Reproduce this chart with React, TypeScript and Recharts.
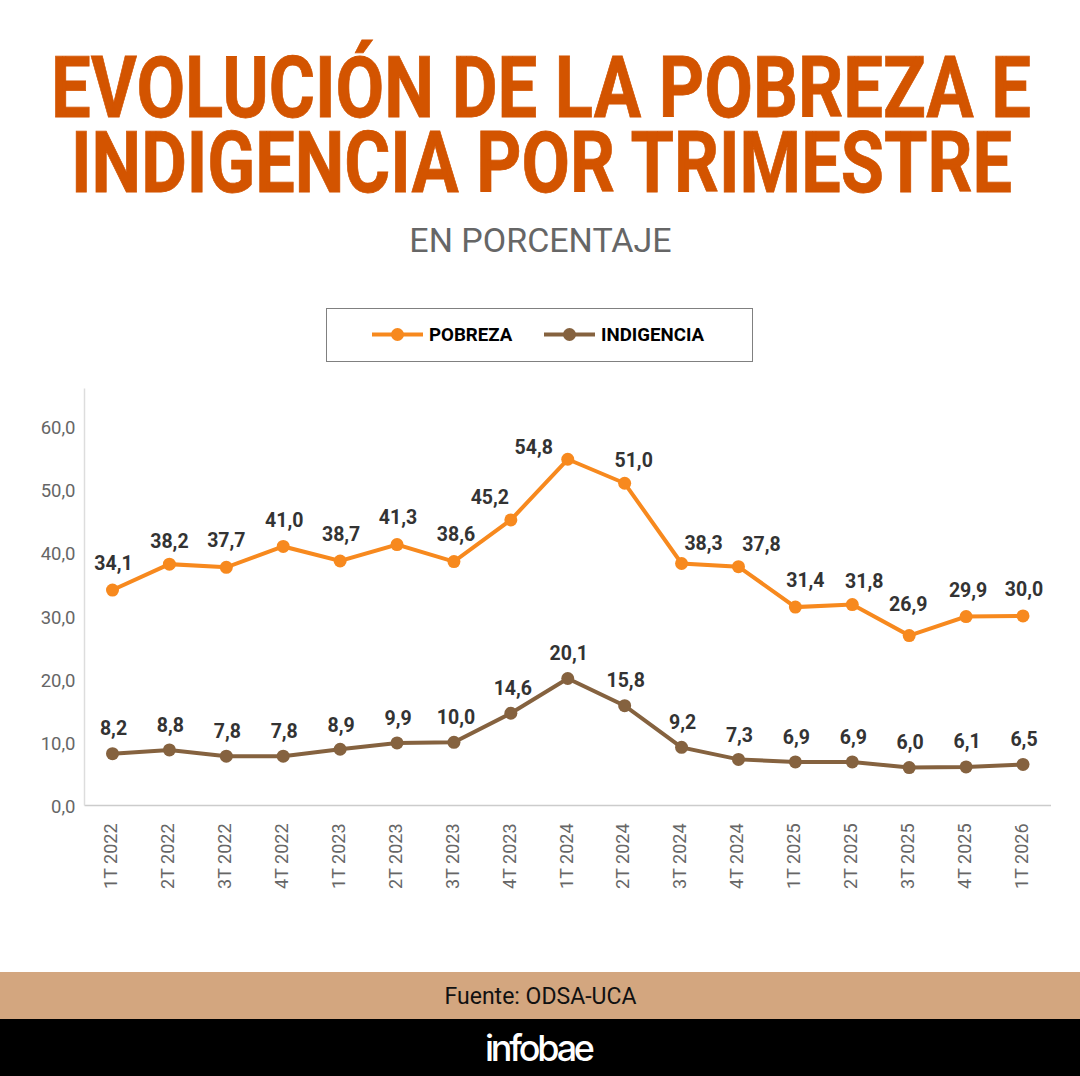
import React from "react";
import { LineChart, Line, XAxis, YAxis, LabelList } from "recharts";

const periods = [
  "1T 2022", "2T 2022", "3T 2022", "4T 2022", "1T 2023", "2T 2023", "3T 2023", "4T 2023", "1T 2024",
  "2T 2024", "3T 2024", "4T 2024", "1T 2025", "2T 2025", "3T 2025", "4T 2025", "1T 2026",
];
const pobreza = [34.1, 38.2, 37.7, 41.0, 38.7, 41.3, 38.6, 45.2, 54.8, 51.0, 38.3, 37.8, 31.4, 31.8, 26.9, 29.9, 30.0];
const indigencia = [8.2, 8.8, 7.8, 7.8, 8.9, 9.9, 10.0, 14.6, 20.1, 15.8, 9.2, 7.3, 6.9, 6.9, 6.0, 6.1, 6.5];
const yTicks = [0, 10, 20, 30, 40, 50, 60];

// hand placed labels in the original, nudges from the point
const pobrezaNudge = [
  [1, -27], [0, -23], [0, -27], [1, -26], [1, -26], [1, -27], [2, -27], [-21, -22], [-34, -12],
  [9, -23], [22, -20], [23, -22], [10, -27], [12, -23], [-1, -31], [2, -26], [1, -26],
];
const indigenciaNudge = [
  [1, -25], [1, -24], [1, -25], [1, -25], [1, -24], [1, -24], [2, -25], [2, -25], [1, -25],
  [1, -25], [1, -25], [1, -24], [1, -24], [1, -24], [1, -25], [1, -25], [1, -25],
];

const ORANGE = "#F7891E";
const BROWN = "#85623F";
const FONT = "Roboto, sans-serif";

const data = periods.map((periodo, i) => ({ periodo, pobreza: pobreza[i], indigencia: indigencia[i] }));
const fmt = (v: number) => v.toFixed(1).replace(".", ",");

const makeLabel = (nudge: number[][]) => (props: any) => {
  const { x, y, index, value } = props;
  const [dx, dy] = nudge[index];
  return (
    <text x={x + dx} y={y + dy} textAnchor="middle" dominantBaseline="central" fontFamily={FONT} fontSize={19.5} fontWeight={700} fill="#333333">
      {fmt(value)}
    </text>
  );
};

function LegendBox() {
  const item = (x: number, color: string, name: string) => (
    <g key={name}>
      <line x1={x} x2={x + 51} y1={26.5} y2={26.5} stroke={color} strokeWidth={4} />
      <circle cx={x + 25.5} cy={26.5} r={6.5} fill={color} />
      <text x={x + 57} y={33} fontFamily={FONT} fontSize={18.7} fontWeight={700} fill="#000000">{name}</text>
    </g>
  );
  return (
    <svg width={427} height={54} style={{ position: "absolute", left: 326, top: 308 }}>
      <rect x={0.5} y={0.5} width={426} height={53} fill="#fff" stroke="#808080" strokeWidth={1} />
      {item(46, ORANGE, "POBREZA")}
      {item(218, BROWN, "INDIGENCIA")}
    </svg>
  );
}

export default function App() {
  return (
    <div style={{ position: "absolute", left: 0, top: 0, width: 1080, height: 1076, background: "#fff", overflow: "hidden" }}>
      <svg width={1080} height={1076} style={{ position: "absolute", left: 0, top: 0 }}>
        <g fontFamily={FONT} fontWeight={700} fontSize={68} fill="#D35400" stroke="#D35400" strokeWidth={0.6}>
          <text transform="translate(51 117) scale(1 1.25)" textLength={980} lengthAdjust="spacingAndGlyphs">EVOLUCIÓN DE LA POBREZA E</text>
          <text transform="translate(71 192) scale(1 1.25)" textLength={941} lengthAdjust="spacingAndGlyphs">INDIGENCIA POR TRIMESTRE</text>
        </g>
        <text x={540.5} y={252} textAnchor="middle" fontFamily={FONT} fontSize={34} fill="#666666">EN PORCENTAJE</text>
        <rect x={0} y={972} width={1080} height={47} fill="#D3A67F" />
        <rect x={0} y={1019} width={1080} height={57} fill="#000000" />
        <text x={540.5} y={1004} textAnchor="middle" fontFamily={FONT} fontSize={23} fill="#111111">Fuente: ODSA-UCA</text>
        <text x={485} y={1061} textLength={110} lengthAdjust="spacing" fontFamily="Inter, sans-serif" fontSize={36} fontWeight={500} fill="#ffffff">infobae</text>
      </svg>
      <LegendBox />
      <div style={{ position: "absolute", left: 0, top: 0 }}>
        <LineChart width={1080} height={1076} data={data} margin={{ top: 388.5, right: 29, bottom: 190.5, left: 0 }}>
          <XAxis
            dataKey="periodo"
            interval={0}
            height={80}
            padding={{ left: 28, right: 28 }}
            axisLine={{ stroke: "#cccccc", strokeWidth: 1.5 }}
            tickLine={false}
            angle={-90}
            textAnchor="end"
            tick={{ fontFamily: FONT, fontSize: 18, fill: "#666666", dx: -8, dy: 5 }}
            tickMargin={7}
          />
          <YAxis
            width={84.5}
            domain={[0, 66]}
            ticks={yTicks}
            tickFormatter={fmt}
            axisLine={{ stroke: "#dddddd", strokeWidth: 1.5 }}
            tickLine={false}
            tick={{ fontFamily: FONT, fontSize: 18.5, fill: "#666666", dy: 1 }}
            tickMargin={3}
          />
          <Line dataKey="pobreza" name="POBREZA" stroke={ORANGE} strokeWidth={4} dot={{ r: 6.5, fill: ORANGE, stroke: ORANGE, strokeWidth: 0 }} isAnimationActive={false}>
            <LabelList dataKey="pobreza" content={makeLabel(pobrezaNudge)} />
          </Line>
          <Line dataKey="indigencia" name="INDIGENCIA" stroke={BROWN} strokeWidth={4} dot={{ r: 6.5, fill: BROWN, stroke: BROWN, strokeWidth: 0 }} isAnimationActive={false}>
            <LabelList dataKey="indigencia" content={makeLabel(indigenciaNudge)} />
          </Line>
        </LineChart>
      </div>
    </div>
  );
}
